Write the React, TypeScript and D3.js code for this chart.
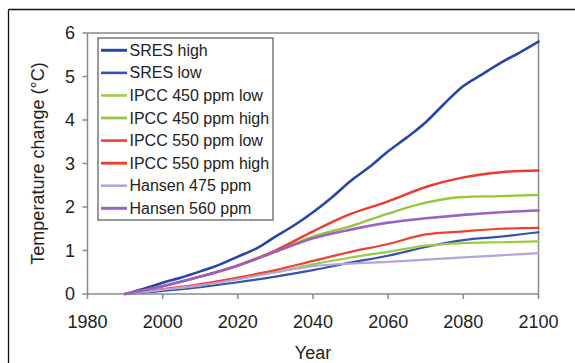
import React from "react";
import * as d3 from "d3";

const years = [1990, 2000, 2010, 2020, 2030, 2040, 2050, 2060, 2070, 2080, 2090, 2100];
const sresHighYears = [1990, 1995, 2000, 2005, 2010, 2015, 2020, 2025, 2030, 2035, 2040, 2045, 2050, 2055, 2060, 2065, 2070, 2075, 2080, 2085, 2090, 2095, 2100];
const sresHigh = [0, 0.12, 0.26, 0.38, 0.52, 0.67, 0.86, 1.05, 1.32, 1.58, 1.88, 2.22, 2.6, 2.92, 3.28, 3.6, 3.95, 4.38, 4.78, 5.05, 5.32, 5.55, 5.8];
const sresLow = [0, 0.07, 0.16, 0.27, 0.4, 0.55, 0.72, 0.88, 1.08, 1.24, 1.32, 1.42];
const ipcc450Low = [0, 0.1, 0.2, 0.35, 0.5, 0.68, 0.84, 0.97, 1.11, 1.17, 1.19, 1.21];
const ipcc450High = [0, 0.18, 0.4, 0.65, 0.98, 1.32, 1.56, 1.85, 2.1, 2.23, 2.25, 2.28];
const ipcc550Low = [0, 0.11, 0.23, 0.38, 0.55, 0.76, 0.97, 1.15, 1.37, 1.44, 1.5, 1.52];
const ipcc550High = [0, 0.18, 0.4, 0.66, 1.0, 1.44, 1.84, 2.13, 2.46, 2.68, 2.8, 2.84];
const hansen475 = [0, 0.1, 0.2, 0.34, 0.5, 0.64, 0.7, 0.74, 0.79, 0.84, 0.89, 0.94];
const hansen560 = [0, 0.18, 0.4, 0.65, 0.97, 1.28, 1.48, 1.64, 1.74, 1.82, 1.88, 1.92];

const xTicks = [1980, 2000, 2020, 2040, 2060, 2080, 2100];
const yTicks = [0, 1, 2, 3, 4, 5, 6];

const series = [
  { name: "SRES high", xs: sresHighYears, ys: sresHigh, color: "#2a45a3", width: 2.6 },
  { name: "SRES low", xs: years, ys: sresLow, color: "#3553b3", width: 2.2 },
  { name: "IPCC 450 ppm low", xs: years, ys: ipcc450Low, color: "#9dcb45", width: 2.2 },
  { name: "IPCC 450 ppm high", xs: years, ys: ipcc450High, color: "#96c63c", width: 2.4 },
  { name: "IPCC 550 ppm low", xs: years, ys: ipcc550Low, color: "#f0412e", width: 2.2 },
  { name: "IPCC 550 ppm high", xs: years, ys: ipcc550High, color: "#ee3a2a", width: 2.4 },
  { name: "Hansen 475 ppm", xs: years, ys: hansen475, color: "#b7a3db", width: 2.2 },
  { name: "Hansen 560 ppm", xs: years, ys: hansen560, color: "#9b62c2", width: 2.6 },
];

export default function App() {
  const W = 575, H = 363;
  const x = d3.scaleLinear().domain([1980, 2100]).range([87.5, 538.5]);
  const y = d3.scaleLinear().domain([0, 6]).range([294, 33]);
  const font = "'Liberation Sans', Arial, sans-serif";
  const axisColor = "#8a8a8a";

  const line = (xs: number[], ys: number[]) =>
    d3
      .line<number>()
      .x((_, i) => x(xs[i]))
      .y((v) => y(v))
      .curve(d3.curveMonotoneX)(ys) || "";

  const legX = 98, legY = 38, legW = 175, legH = 182;
  const rowH = 22.57;

  return (
    <svg
      width={W}
      height={H}
      style={{ position: "absolute", left: 0, top: 0, background: "#fff" }}
      fontFamily={font}
    >
      <rect x={0} y={0} width={W} height={H} fill="#fff" />
      <line x1={8.5} y1={9.5} x2={W} y2={9.5} stroke="#111" strokeWidth={1.3} />
      <line x1={8.5} y1={9.5} x2={8.5} y2={H} stroke="#111" strokeWidth={1.3} />

      <line x1={x(1980)} y1={y(6)} x2={x(2100)} y2={y(6)} stroke={axisColor} strokeWidth={1.5} />
      <line x1={x(2100)} y1={y(6)} x2={x(2100)} y2={y(0)} stroke={axisColor} strokeWidth={1.5} />

      <line x1={x(1980)} y1={y(0)} x2={x(2100)} y2={y(0)} stroke={axisColor} strokeWidth={1.5} />
      <line x1={x(1980)} y1={y(0)} x2={x(1980)} y2={y(6)} stroke={axisColor} strokeWidth={1.5} />
      {xTicks.map((t) => (
        <g key={"xt" + t}>
          <line x1={x(t)} y1={y(0)} x2={x(t)} y2={y(0) + 5} stroke={axisColor} strokeWidth={1.5} />
          <text x={x(t)} y={328} textAnchor="middle" fontSize={18} fill="#222">
            {t}
          </text>
        </g>
      ))}
      {yTicks.map((t) => (
        <g key={"yt" + t}>
          <line x1={x(1980) - 5} y1={y(t)} x2={x(1980)} y2={y(t)} stroke={axisColor} strokeWidth={1.5} />
          <text x={75} y={y(t)} dy="0.35em" textAnchor="end" fontSize={18} fill="#222">
            {t}
          </text>
        </g>
      ))}

      {series.map((s) => (
        <path
          key={s.name}
          d={line(s.xs, s.ys)}
          fill="none"
          stroke={s.color}
          strokeWidth={s.width}
          strokeLinejoin="round"
          strokeLinecap="round"
        />
      ))}

      <rect x={legX} y={legY} width={legW} height={legH} fill="#fff" stroke="#555" strokeWidth={1.2} />
      {series.map((s, i) => {
        const cy = 50.3 + i * rowH;
        return (
          <g key={"leg" + s.name}>
            <line x1={101} y1={cy} x2={127} y2={cy} stroke={s.color} strokeWidth={s.width + 0.4} />
            <text x={129.5} y={cy} dy="0.35em" fontSize={16} fill="#222">
              {s.name}
            </text>
          </g>
        );
      })}

      <text
        transform={`translate(38, ${(y(0) + y(6)) / 2}) rotate(-90)`}
        textAnchor="middle"
        dy="0.35em"
        fontSize={18}
        fill="#222"
      >
        Temperature change (°C)
      </text>
      <text x={(x(1980) + x(2100)) / 2} y={359} textAnchor="middle" fontSize={18} fill="#222">
        Year
      </text>
    </svg>
  );
}
